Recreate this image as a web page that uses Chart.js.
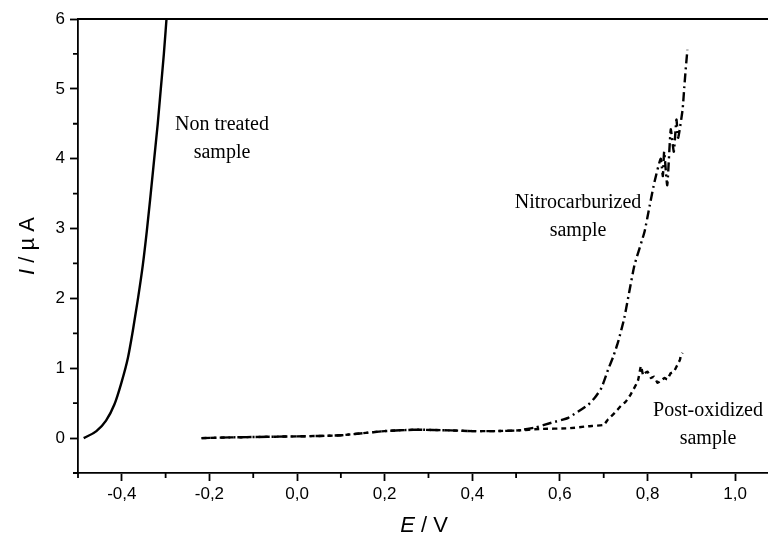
<!DOCTYPE html>
<html>
<head>
<meta charset="utf-8">
<script src="https://cdn.jsdelivr.net/npm/chart.js@4/dist/chart.umd.min.js"></script>
<style>
  body { margin: 0; background: #fff; }
  #wrap { width: 768px; height: 546px; }
</style>
</head>
<body>
<div id="wrap"><canvas id="plot" width="768" height="546"></canvas></div>
<script>
// Values (E in V, I in µA)
const nonTreatedE = [-0.487, -0.458, -0.436, -0.417, -0.402, -0.386, -0.375, -0.364, -0.352, -0.343, -0.334, -0.326, -0.318, -0.311, -0.304, -0.298];
const nonTreatedI = [0, 0.1, 0.25, 0.48, 0.77, 1.15, 1.53, 1.96, 2.48, 2.96, 3.5, 4, 4.5, 5, 5.5, 6];

const nitroE = [-0.218, -0.15, -0.05, 0.05, 0.10, 0.15, 0.20, 0.27, 0.35, 0.40, 0.45, 0.505, 0.543, 0.581, 0.619, 0.665, 0.68, 0.695, 0.71, 0.722, 0.733, 0.747, 0.77, 0.793, 0.805, 0.816, 0.83, 0.835, 0.838, 0.845, 0.853, 0.86, 0.866, 0.87, 0.88, 0.884, 0.887, 0.891];
const nitroI = [0.00, 0.01, 0.02, 0.03, 0.04, 0.07, 0.10, 0.12, 0.11, 0.10, 0.10, 0.11, 0.15, 0.22, 0.29, 0.48, 0.58, 0.72, 0.98, 1.17, 1.38, 1.72, 2.47, 2.95, 3.33, 3.67, 4.00, 3.75, 4.10, 3.62, 4.42, 4.10, 4.56, 4.30, 4.70, 5.03, 5.27, 5.56];

const postOxE = [-0.218, -0.15, -0.05, 0.05, 0.10, 0.15, 0.20, 0.27, 0.35, 0.40, 0.45, 0.505, 0.553, 0.62, 0.665, 0.70, 0.71, 0.725, 0.739, 0.75, 0.762, 0.778, 0.785, 0.79, 0.794, 0.80, 0.808, 0.815, 0.823, 0.83, 0.839, 0.845, 0.853, 0.86, 0.869, 0.874, 0.876, 0.88];
const postOxI = [0.00, 0.01, 0.02, 0.03, 0.04, 0.07, 0.10, 0.12, 0.11, 0.10, 0.10, 0.11, 0.13, 0.14, 0.17, 0.19, 0.27, 0.36, 0.46, 0.52, 0.63, 0.82, 1.03, 0.90, 0.93, 0.95, 0.86, 0.88, 0.79, 0.82, 0.86, 0.84, 0.93, 0.95, 1.06, 1.12, 1.18, 1.22];

const xMajor = [-0.4, -0.2, 0.0, 0.2, 0.4, 0.6, 0.8, 1.0];
const xMinor = [-0.5, -0.3, -0.1, 0.1, 0.3, 0.5, 0.7, 0.9];
const yMajor = [0, 1, 2, 3, 4, 5, 6];
const yMinor = [-0.5, 0.5, 1.5, 2.5, 3.5, 4.5, 5.5];

const notes = [
  { lines: ['Non treated', 'sample'], x: 222, y: 125 },
  { lines: ['Nitrocarburized', 'sample'], x: 578, y: 203 },
  { lines: ['Post-oxidized', 'sample'], x: 708, y: 411 }
];

const sansFont = "'Liberation Sans', Arial, sans-serif";
const serifFont = "'Liberation Serif', 'Times New Roman', serif";

function toPoints(xs, ys) {
  return xs.map((x, i) => ({ x: x, y: ys[i] }));
}

function lineSet(label, xs, ys, dash, smooth) {
  return {
    label: label,
    data: toPoints(xs, ys),
    showLine: true,
    borderColor: '#000',
    borderWidth: 2.4,
    borderDash: dash,
    pointRadius: 0,
    cubicInterpolationMode: smooth ? 'monotone' : 'default',
    tension: smooth ? 0.4 : 0.15,
    fill: false
  };
}

// frame, minor ticks, axis titles and text notes
const decorations = {
  id: 'decorations',
  afterDraw(chart) {
    const ctx = chart.ctx;
    const area = chart.chartArea;
    const xs = chart.scales.x;
    const ys = chart.scales.y;
    ctx.save();
    ctx.strokeStyle = '#000';
    ctx.lineWidth = 1.8;
    ctx.beginPath();
    ctx.moveTo(area.left, area.top);
    ctx.lineTo(area.right, area.top);
    xMinor.forEach(v => {
      const px = xs.getPixelForValue(v);
      ctx.moveTo(px, area.bottom);
      ctx.lineTo(px, area.bottom + 5);
    });
    yMinor.forEach(v => {
      const py = ys.getPixelForValue(v);
      ctx.moveTo(area.left, py);
      ctx.lineTo(area.left - 5, py);
    });
    ctx.stroke();

    ctx.fillStyle = '#000';
    ctx.textBaseline = 'middle';

    // x title: italic E + " / V"
    const midX = (area.left + area.right) / 2 + 1;
    ctx.font = 'italic 22px ' + sansFont;
    const eW = ctx.measureText('E').width;
    ctx.font = '22px ' + sansFont;
    const restW = ctx.measureText(' / V').width;
    let sx = midX - (eW + restW) / 2;
    ctx.textAlign = 'left';
    ctx.font = 'italic 22px ' + sansFont;
    ctx.fillText('E', sx, 526);
    ctx.font = '22px ' + sansFont;
    ctx.fillText(' / V', sx + eW, 526);

    // y title: italic I + " / µ A"
    ctx.save();
    ctx.translate(28, (area.top + area.bottom) / 2);
    ctx.rotate(-Math.PI / 2);
    ctx.font = 'italic 22px ' + sansFont;
    const iW = ctx.measureText('I').width;
    ctx.font = '22px ' + sansFont;
    const tailW = ctx.measureText(' / µ A').width;
    sx = -(iW + tailW) / 2;
    ctx.font = 'italic 22px ' + sansFont;
    ctx.fillText('I', sx, 0);
    ctx.font = '22px ' + sansFont;
    ctx.fillText(' / µ A', sx + iW, 0);
    ctx.restore();

    // notes beside curves
    ctx.font = '20px ' + serifFont;
    ctx.textAlign = 'center';
    notes.forEach(n => {
      n.lines.forEach((t, k) => ctx.fillText(t, n.x, n.y + k * 28));
    });
    ctx.restore();
  }
};

const ctx = document.getElementById('plot').getContext('2d');
const chart = new Chart(ctx, {
  type: 'scatter',
  data: {
    datasets: [
      lineSet('Non treated sample', nonTreatedE, nonTreatedI, [], true),
      lineSet('Nitrocarburized sample', nitroE, nitroI, [9, 4, 2, 4], false),
      lineSet('Post-oxidized sample', postOxE, postOxI, [5, 4], false)
    ]
  },
  options: {
    responsive: false,
    animation: false,
    devicePixelRatio: 1,
    layout: { padding: { top: 19, right: 0, left: 0, bottom: 0 } },
    plugins: {
      legend: { display: false },
      tooltip: { enabled: false }
    },
    scales: {
      x: {
        type: 'linear',
        min: -0.5,
        max: 1.075,
        afterBuildTicks: s => { s.ticks = xMajor.map(v => ({ value: v })); },
        afterFit: s => { s.height = 73; },
        ticks: {
          color: '#000',
          font: { family: sansFont, size: 17 },
          padding: 3,
          maxRotation: 0,
          callback: v => v.toFixed(1).replace('.', ',')
        },
        grid: { drawOnChartArea: false, drawTicks: true, tickLength: 8, tickWidth: 1.8, tickColor: '#000' },
        border: { color: '#000', width: 1.8 }
      },
      y: {
        type: 'linear',
        min: -0.5,
        max: 6,
        afterBuildTicks: s => { s.ticks = yMajor.map(v => ({ value: v })); },
        afterFit: s => { s.width = 78; },
        ticks: {
          color: '#000',
          font: { family: sansFont, size: 17 },
          padding: 5,
          callback: v => String(v)
        },
        grid: { drawOnChartArea: false, drawTicks: true, tickLength: 8, tickWidth: 1.8, tickColor: '#000' },
        border: { color: '#000', width: 1.8 }
      }
    }
  },
  plugins: [decorations]
});
</script>
</body>
</html>
